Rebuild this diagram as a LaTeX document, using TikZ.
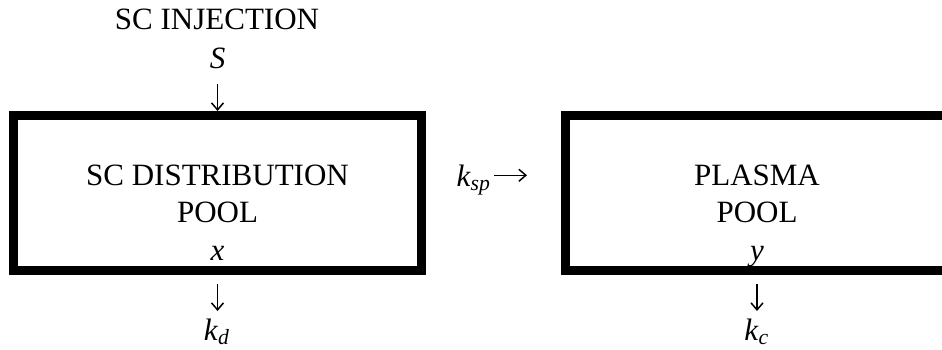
\documentclass[tikz,border=0pt]{standalone}
\usepackage{fontspec}
\setmainfont{Liberation Serif}
\usetikzlibrary{arrows.meta}

\newcommand{\krate}[1]{\textit{k}\textsubscript{\textit{#1}}}

\begin{document}
\begin{tikzpicture}[x=40pt, y=40pt,
        every node/.style={font=\fontsize{12.4}{15}\selectfont, inner sep=0pt},
        pool/.style={draw, line width=3.6pt, minimum height=62pt},
        flow/.style={line width=0.6pt, -{Straight Barb[length=2.8pt, width=4.8pt]}}]
        % Moldura (o compartimento do plasma passa da borda)
        \useasboundingbox (0,0) rectangle (9.42,3.49);
        \clip (0,0) rectangle (9.42,3.49);

        % Compartimentos
        \node[pool, minimum width=163.2pt] (distbox) at (2.175,1.56) {};
        \node[pool, minimum width=153.2pt] (plasmabox) at (7.57,1.56) {};

        % Rótulos (base = última linha)
        \node[anchor=base, align=center] (disttext) at (2.175,0.89)
            {SC DISTRIBUTION\\POOL\\\textit{x}};
        \node[anchor=base, align=center] (plasmatext) at (7.57,0.89)
            {PLASMA\\POOL\\\textit{y}};

        % Injeção SC
        \node[anchor=base] (inj) at (2.17,3.197) {SC INJECTION};
        \node[anchor=base] (dose) at (2.175,2.807) {\textit{S}};
        \draw[flow, shorten <=5.9pt] (dose) -- (dose |- distbox.north);

        % Transferência para o plasma
        \node[anchor=base west] (ksp) at (4.56,1.63) {\krate{sp}};
        \draw[flow, shorten <=1pt, shorten >=13.6pt]
            ([yshift=1.8pt]ksp.east) -- ([yshift=1.8pt]ksp.east -| plasmabox.west);

        % Eliminação
        \node[anchor=base] (kd) at (2.17,0.09) {\krate{d}};
        \node[anchor=base] (kc) at (7.57,0.09) {\krate{c}};
        \draw[flow, shorten <=3.6pt, shorten >=2.8pt] (distbox.south) -- (distbox.south |- kd.north);
        \draw[flow, shorten <=3.6pt, shorten >=2.8pt] (plasmabox.south) -- (plasmabox.south |- kc.north);
    \end{tikzpicture}
\end{document}
